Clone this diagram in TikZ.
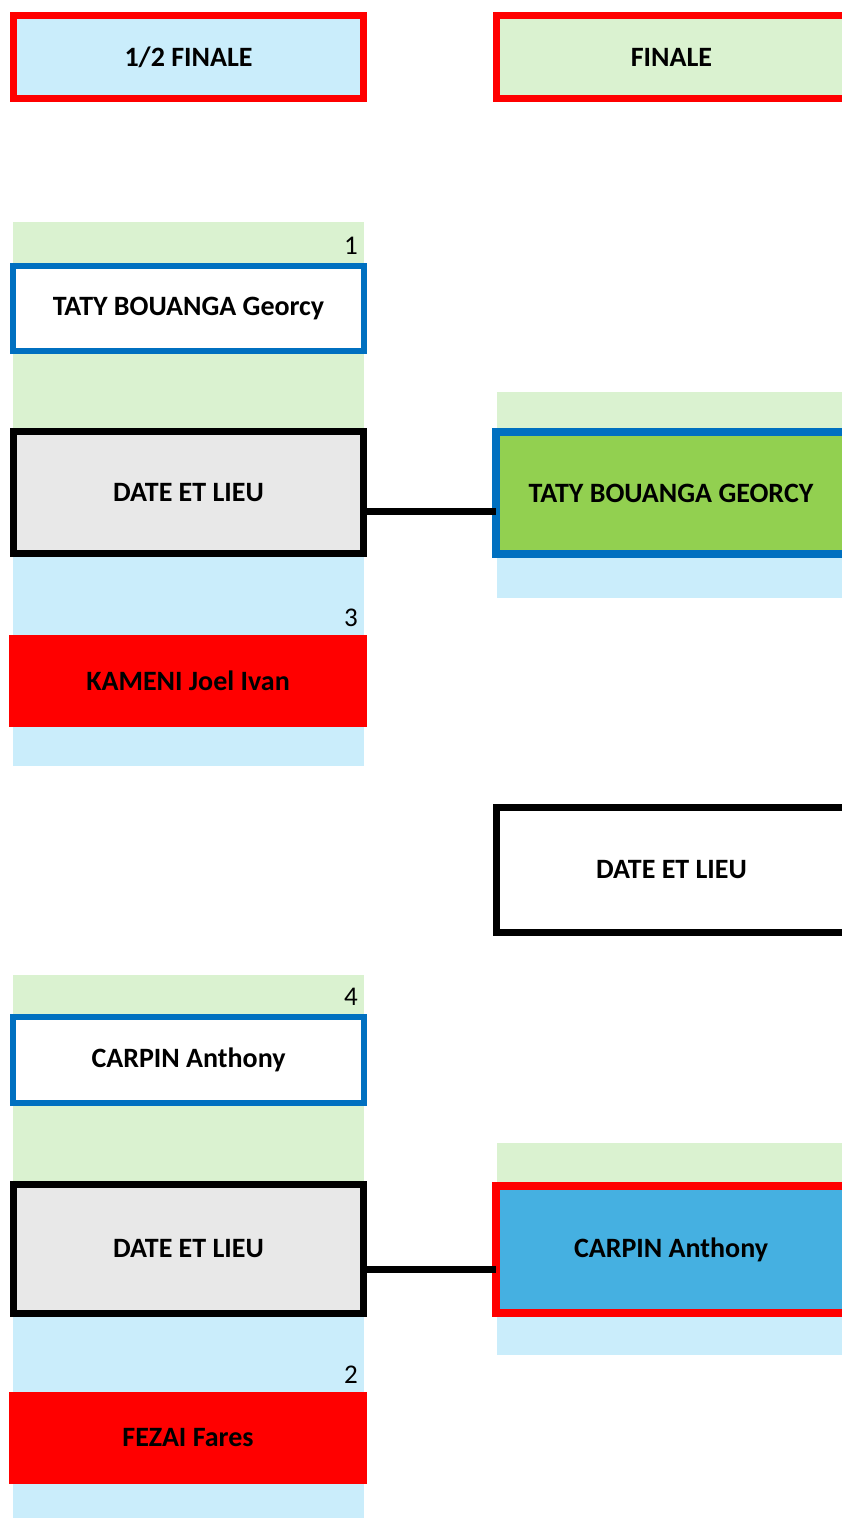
\documentclass[tikz,border=0pt]{standalone}
\usepackage{fontspec}
\setmainfont{Carlito}
\definecolor{bgblue}{HTML}{CAEDFB}
\definecolor{bggreen}{HTML}{DAF2D0}
\definecolor{pred}{HTML}{FF0000}
\definecolor{pblue}{HTML}{0070C0}
\definecolor{pgreen}{HTML}{92D050}
\definecolor{pcyan}{HTML}{45B0E1}
\definecolor{pgray}{HTML}{E8E8E8}
\tikzset{
  lbl/.style={font=\fontsize{28}{30}\selectfont\bfseries, align=center, inner sep=0pt, outer sep=0pt},
  hdr/.style={lbl, draw=pred, line width=7pt, minimum width=350pt, minimum height=83pt},
  namebox/.style={lbl, draw=pblue, line width=6pt, fill=white, minimum width=351pt, minimum height=85pt},
  datebox/.style={lbl, draw=black, line width=7pt, minimum width=350pt, minimum height=122pt},
  lostbox/.style={lbl, fill=pred, minimum width=358pt, minimum height=92pt},
  winbox/.style={lbl, line width=8pt, minimum width=350pt},
  seed/.style={font=\fontsize{27}{30}\selectfont, inner sep=0pt, anchor=base east},
  conn/.style={draw=black, line width=7pt}
}
\begin{document}
\begin{tikzpicture}[x=1pt,y=-1pt]
\useasboundingbox (0,0) rectangle (842,1518);
% headers
\node[hdr, fill=bgblue] (h1) at (188.5,57) {1/2 FINALE};
\node[hdr, fill=bggreen] (h2) at (671.5,57) {FINALE};
% group 1 backgrounds
\fill[bggreen] (13,222) rectangle (364,492);
\fill[bgblue] (13,492) rectangle (364,766);
\node[seed] (s1) at (358,254) {1};
\node[namebox] (n1) at (188.5,308.5) {TATY BOUANGA Georcy};
\node[datebox, fill=pgray] (d1) at (188.5,492.5) {DATE ET LIEU};
\node[seed] (s3) at (358,626) {3};
\node[lostbox] (n3) at (188,681) {KAMENI Joel Ivan};
% final 1
\fill[bggreen] (497,392) rectangle (850,495);
\fill[bgblue] (497,495) rectangle (850,598);
\node[winbox, draw=pblue, fill=pgreen, minimum height=122pt] (f1) at (671,493) {TATY BOUANGA GEORCY};
\coordinate (c1) at ([yshift=-18.5pt]d1.east);
\draw[conn] (c1) -- (c1 -| f1.west);
% middle date
\node[datebox, fill=white, minimum height=125pt] (dm) at (671.5,870) {DATE ET LIEU};
% group 2 backgrounds
\fill[bggreen] (13,975) rectangle (364,1249);
\fill[bgblue] (13,1249) rectangle (364,1520);
\node[seed] (s4) at (358,1005) {4};
\node[namebox, minimum height=86pt] (n4) at (188.5,1060) {CARPIN Anthony};
\node[datebox, fill=pgray, minimum height=129pt] (d2) at (188.5,1249) {DATE ET LIEU};
\node[seed] (s2) at (358,1383) {2};
\node[lostbox] (n2) at (188,1438) {FEZAI Fares};
% final 2
\fill[bggreen] (497,1143) rectangle (850,1249);
\fill[bgblue] (497,1249) rectangle (850,1355);
\node[winbox, draw=pred, fill=pcyan, minimum height=127pt] (f2) at (671,1249.5) {CARPIN Anthony};
\coordinate (c2) at ([yshift=-20pt]d2.east);
\draw[conn] (c2) -- (c2 -| f2.west);
\end{tikzpicture}
\end{document}
